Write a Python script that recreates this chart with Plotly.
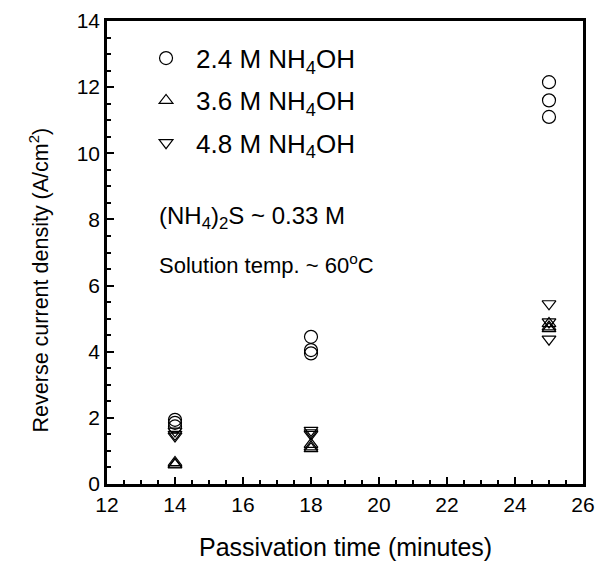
import plotly.graph_objects as go

x_pts = [14, 14, 14, 18, 18, 18, 25, 25, 25]
y_24 = [1.94, 1.85, 1.74, 4.45, 4.05, 3.95, 12.15, 11.6, 11.1]
y_36 = [0.65, 0.6, 0.58, 1.2, 1.12, 1.07, 4.85, 4.75, 4.7]
y_48 = [1.6, 1.5, 1.45, 1.62, 1.55, 1.5, 5.45, 4.9, 4.38]

names = ["2.4 M NH<sub>4</sub>OH", "3.6 M NH<sub>4</sub>OH", "4.8 M NH<sub>4</sub>OH"]
FONT = "Liberation Sans, Arial, sans-serif"

fig = go.Figure()
for i, (y, name, sym, sz) in enumerate([(y_24, names[0], "circle-open", 13),
                                        (y_36, names[1], "triangle-up-open", 12),
                                        (y_48, names[2], "triangle-down-open", 12)]):
    fig.add_trace(go.Scatter(x=x_pts, y=y, mode="markers", name=name, legendgroup=f"g{i}",
                             marker=dict(symbol=sym, size=sz, color="black",
                                         line=dict(color="black", width=1.2))))

def py(p):
    return (484 - p) / 463

fig.add_annotation(x=0.105, y=py(218), xref="paper", yref="paper",
                   xanchor="left", yanchor="middle", showarrow=False,
                   text="(NH<sub>4</sub>)<sub>2</sub>S ~ 0.33 M",
                   font=dict(size=24, color="black", family=FONT))
fig.add_annotation(x=0.105, y=py(264), xref="paper", yref="paper",
                   xanchor="left", yanchor="middle", showarrow=False,
                   text="Solution temp. ~ 60<sup>o</sup>C",
                   font=dict(size=22, color="black", family=FONT))
fig.add_annotation(x=-0.142, y=py(280), xref="paper", yref="paper",
                   xanchor="center", yanchor="middle", showarrow=False, textangle=-90,
                   text="Reverse current density (A/cm<sup>2</sup>)",
                   font=dict(size=21.5, color="black", family=FONT))
fig.add_annotation(x=0.5, y=py(547), xref="paper", yref="paper",
                   xanchor="center", yanchor="middle", showarrow=False,
                   text="Passivation time (minutes)",
                   font=dict(size=25, color="black", family=FONT))

axis_common = dict(showline=True, linecolor="black", linewidth=2.5, mirror=True,
                   ticks="inside", ticklen=7, tickwidth=2, tickcolor="black",
                   showgrid=False, zeroline=False, automargin=False,
                   tickfont=dict(size=21, color="black", family=FONT))
fig.update_xaxes(range=[12, 26], dtick=2, tick0=12,
                 minor=dict(dtick=0.5, ticks="inside", ticklen=4, tickwidth=2, tickcolor="black"),
                 **axis_common)
fig.update_yaxes(range=[0, 14], dtick=2, tick0=0,
                 minor=dict(dtick=0.5, ticks="inside", ticklen=4, tickwidth=2, tickcolor="black"),
                 **axis_common)

fig.update_layout(width=599, height=562, margin=dict(l=107, r=16, t=21, b=78),
                  plot_bgcolor="white", paper_bgcolor="white",
                  font=dict(family=FONT, color="black"),
                  legend=dict(x=0.061, y=0.9705, xanchor="left", yanchor="top",
                              bgcolor="rgba(0,0,0,0)", tracegroupgap=5.5, itemwidth=50,
                              font=dict(size=26, color="black", family=FONT)))

fig.write_html("out.html")
